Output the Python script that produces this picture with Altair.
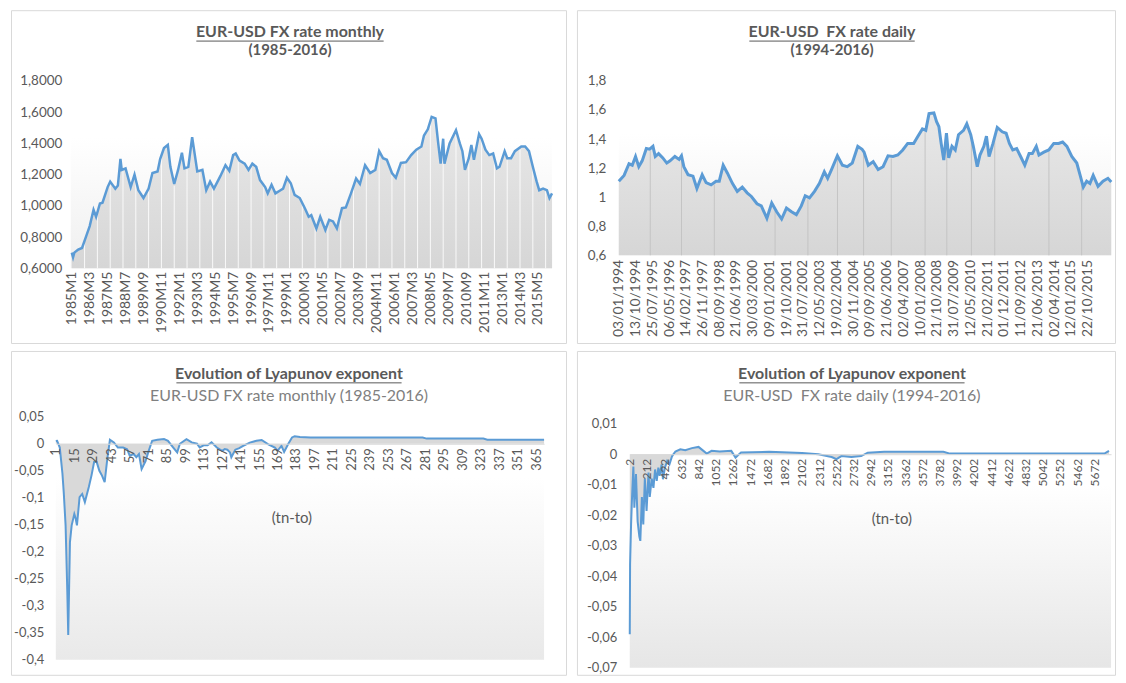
import json
import numpy as np
import pandas as pd
import altair as alt

FONT = "Lato"
TXT = "#595959"
SUB = "#808080"
BLUE = "#5b9bd5"
BORDER = "#d9d9d9"

# ---------------- data ----------------
month_idx = [0, 1, 2, 5, 8, 11, 14, 17, 19, 22, 24, 28, 30, 34, 36, 38, 39, 42, 46, 49,
             52, 56, 60, 63, 67, 69, 72, 75, 77, 80, 83, 86, 88, 91, 94, 98, 102, 105, 108, 111,
             116, 120, 123, 126, 128, 131, 135, 138, 141, 144, 147, 151, 153, 156, 159, 163, 165, 168, 171, 174,
             178, 182, 185, 187, 191, 194, 198, 201, 204, 207, 211, 214, 218, 222, 225, 229, 233, 237, 240, 243,
             246, 250, 253, 257, 261, 265, 269, 273, 275, 278, 281, 284, 286, 288, 290, 291, 295, 300, 303, 305,
             307, 310, 312, 314, 318, 320, 323, 326, 329, 332, 334, 338, 340, 343, 346, 351, 354, 357, 360, 363,
             365, 368, 371, 373, 375]
fx_monthly = [0.70, 0.67, 0.70, 0.72, 0.73, 0.80, 0.87, 0.975, 0.93, 1.015, 1.02, 1.12, 1.155, 1.11, 1.13, 1.30, 1.23, 1.24, 1.12, 1.20,
              1.10, 1.05, 1.11, 1.21, 1.22, 1.30, 1.37, 1.39, 1.25, 1.14, 1.23, 1.34, 1.24, 1.25, 1.44, 1.22, 1.23, 1.10, 1.155, 1.11,
              1.19, 1.26, 1.225, 1.325, 1.335, 1.29, 1.27, 1.23, 1.27, 1.25, 1.165, 1.12, 1.08, 1.135, 1.08, 1.10, 1.11, 1.18, 1.145, 1.07,
              1.05, 0.985, 0.93, 0.94, 0.855, 0.93, 0.845, 0.91, 0.90, 0.855, 0.985, 0.99, 1.08, 1.175, 1.14, 1.26, 1.21, 1.23, 1.35, 1.305,
              1.295, 1.21, 1.18, 1.275, 1.28, 1.325, 1.36, 1.38, 1.45, 1.49, 1.57, 1.56, 1.41, 1.27, 1.43, 1.27, 1.40, 1.485, 1.40, 1.35,
              1.23, 1.305, 1.39, 1.295, 1.46, 1.43, 1.36, 1.325, 1.335, 1.24, 1.25, 1.35, 1.305, 1.305, 1.35, 1.38, 1.38, 1.35, 1.25, 1.155,
              1.10, 1.11, 1.10, 1.05, 1.08]
monthly_ticks = list(range(0, 365, 14))
monthly_labels = ["1985M1", "1986M3", "1987M5", "1988M7", "1989M9", "1990M11", "1992M1", "1993M3", "1994M5",
                  "1995M7", "1996M9", "1997M11", "1999M1", "2000M3", "2001M5", "2002M7", "2003M9", "2004M11",
                  "2006M1", "2007M3", "2008M5", "2009M7", "2010M9", "2011M11", "2013M1", "2014M3", "2015M5"]
fx_m_yticks = [0.6, 0.8, 1.0, 1.2, 1.4, 1.6, 1.8]
fx_m_ylabels = ["0,6000", "0,8000", "1,0000", "1,2000", "1,4000", "1,6000", "1,8000"]

day_idx = [0, 63, 122, 161, 200, 239, 279, 329, 369, 408, 436, 475, 526, 573, 612, 670, 721, 749, 777, 827,
           886, 933, 996, 1043, 1102, 1161, 1200, 1247, 1298, 1357, 1415, 1475, 1533, 1584, 1651, 1702, 1769, 1827, 1886, 1945,
           2003, 2063, 2121, 2180, 2227, 2278, 2338, 2397, 2455, 2495, 2541, 2611, 2671, 2729, 2789, 2855, 2906, 2930, 2980, 3039,
           3098, 3157, 3216, 3275, 3333, 3392, 3451, 3522, 3568, 3627, 3667, 3706, 3764, 3796, 3824, 3851, 3882, 3914, 3941, 3980,
           4019, 4058, 4118, 4157, 4204, 4235, 4282, 4314, 4361, 4392, 4423, 4470, 4521, 4580, 4627, 4666, 4706, 4753, 4800, 4850,
           4901, 4940, 4987, 5019, 5078, 5137, 5196, 5254, 5302, 5353, 5411, 5471, 5509, 5549, 5589, 5628, 5667, 5725, 5784, 5843,
           5883]
fx_daily = [1.11, 1.15, 1.23, 1.22, 1.28, 1.21, 1.25, 1.335, 1.33, 1.35, 1.28, 1.30, 1.27, 1.235, 1.25, 1.28, 1.26, 1.285, 1.21, 1.155,
            1.145, 1.06, 1.155, 1.10, 1.085, 1.11, 1.11, 1.22, 1.165, 1.095, 1.04, 1.07, 1.03, 1.005, 0.955, 0.94, 0.855, 0.96, 0.90, 0.85,
            0.925, 0.90, 0.88, 0.94, 1.01, 0.995, 1.04, 1.095, 1.175, 1.13, 1.19, 1.285, 1.22, 1.21, 1.235, 1.35, 1.33, 1.31, 1.22, 1.245,
            1.19, 1.21, 1.285, 1.28, 1.29, 1.325, 1.37, 1.37, 1.415, 1.47, 1.46, 1.575, 1.58, 1.52, 1.485, 1.37, 1.255, 1.44, 1.27, 1.35,
            1.325, 1.43, 1.46, 1.505, 1.43, 1.35, 1.21, 1.29, 1.35, 1.42, 1.28, 1.37, 1.48, 1.45, 1.44, 1.37, 1.325, 1.335, 1.28, 1.22,
            1.30, 1.30, 1.35, 1.29, 1.31, 1.325, 1.37, 1.37, 1.38, 1.35, 1.28, 1.235, 1.155, 1.07, 1.11, 1.095, 1.15, 1.075, 1.11, 1.13,
            1.105]
daily_ticks = list(range(0, 5601, 200))
daily_labels = ["03/01/1994", "13/10/1994", "25/07/1995", "06/05/1996", "14/02/1997", "26/11/1997", "08/09/1998",
                "21/06/1999", "30/03/2000", "09/01/2001", "19/10/2001", "31/07/2002", "12/05/2003", "19/02/2004",
                "30/11/2004", "09/09/2005", "21/06/2006", "02/04/2007", "10/01/2008", "21/10/2008", "31/07/2009",
                "12/05/2010", "21/02/2011", "01/12/2011", "11/09/2012", "21/06/2013", "02/04/2014", "12/01/2015",
                "22/10/2015"]
daily_gridlines = [376, 749, 1141, 1867, 2259, 2612, 2924, 3255, 3659, 3918, 4212, 4491, 5138, 5529]
fx_d_yticks = [0.6, 0.8, 1.0, 1.2, 1.4, 1.6, 1.8]
fx_d_ylabels = ["0,6", "0,8", "1", "1,2", "1,4", "1,6", "1,8"]

lyap_m_idx = [1, 2, 4, 6, 7, 8.4, 9.7, 10.4, 11.7, 13, 15, 16, 17, 19, 21, 23, 26, 28, 30, 32,
              34, 36, 38, 40, 42, 45, 48, 52, 55, 57, 60, 62, 64, 66, 69, 71, 74, 78, 83, 86,
              90, 93, 95, 100, 104, 108, 110, 113, 116, 119, 123, 127, 129, 131, 133, 134, 137, 140, 143, 148,
              153, 157, 162, 167, 169, 172, 174, 177, 180, 182, 186, 194, 230, 279, 282, 325, 328, 371]
lyap_m = [0.005, 0.0055, -0.007, -0.055, -0.09, -0.151, -0.274, -0.354, -0.182, -0.151, -0.13, -0.138, -0.151, -0.099, -0.093, -0.108, -0.08, -0.059, -0.034, -0.034,
          -0.05, -0.059, -0.071, -0.028, 0.0074, 0.0025, -0.007, -0.007, -0.01, -0.022, -0.019, -0.025, -0.019, -0.047, -0.032, -0.016, 0.0055, 0.0074, 0.0086, 0.0055,
          -0.007, -0.016, 0.0, 0.0086, 0.0025, 0.0, -0.007, -0.003, -0.003, 0.0025, -0.007, -0.013, -0.01, -0.011, -0.016, -0.025, -0.011, -0.008, -0.004, 0.002,
          0.0055, 0.007, -0.001, -0.007, -0.013, -0.004, -0.015, -0.001, 0.0116, 0.014, 0.0125, 0.0115, 0.0115, 0.0115, 0.0095, 0.0095, 0.0075, 0.0075]
lyap_m_ticks = list(range(1, 366, 14))
lyap_m_labels = [str(t) for t in lyap_m_ticks]
lyap_m_yticks = [0.05, 0, -0.05, -0.1, -0.15, -0.2, -0.25, -0.3, -0.35, -0.4]
lyap_m_ylabels = ["0,05", "0", "-0,05", "-0,1", "-0,15", "-0,2", "-0,25", "-0,3", "-0,35", "-0,4"]

lyap_d_idx = [2, 6, 18, 30, 46, 58, 78, 98, 119, 131, 150, 167, 186, 207, 231, 246, 270, 291, 311, 331,
              351, 367, 391, 407, 431, 459, 487, 519, 559, 619, 679, 760, 841, 901, 941, 1001, 1100, 1241, 1293, 1360,
              1702, 2104, 2304, 2465, 2525, 2585, 2706, 2826, 2906, 3107, 3829, 3909, 5794, 5850]
lyap_d = [-0.059, -0.036, -0.023, -0.014, -0.004, -0.0175, -0.0065, -0.022, -0.027, -0.0284, -0.014, -0.023, -0.008, -0.0186, -0.006, -0.014, -0.008, -0.011, -0.005, -0.0087,
          -0.0044, -0.0071, -0.0033, -0.0082, -0.0044, -0.0022, -0.0033, -0.0006, 0.0009, 0.0016, 0.0013, 0.002, 0.0024, 0.0011, 0.0002, 0.0011, 0.0009, 0.0011, -0.0011, 0.0006,
          0.0008, 0.0004, 0.0, -0.0009, -0.0016, -0.0006, -0.0009, -0.0006, 0.0005, 0.0008, 0.0008, 0.0002, 0.0002, 0.0011]
lyap_d_ticks = list(range(2, 5673, 210))
lyap_d_labels = [str(t) for t in lyap_d_ticks]
lyap_d_yticks = [0.01, 0, -0.01, -0.02, -0.03, -0.04, -0.05, -0.06, -0.07]
lyap_d_ylabels = ["0,01", "0", "-0,01", "-0,02", "-0,03", "-0,04", "-0,05", "-0,06", "-0,07"]


# ---------------- helpers ----------------
def lab_expr(ticks, labels):
    return f"{json.dumps(labels)}[indexof({json.dumps(ticks)}, datum.value)]"


def gradient(stops):
    return alt.Gradient(gradient="linear", x1=0, x2=0, y1=0, y2=1,
                        stops=[alt.GradientStop(offset=o, color=c) for o, c in stops])


ONE = alt.Data(values=[{}])


def bg_rect(x0, x1, y0, y1, stops):
    return alt.Chart(ONE).mark_rect(fill=gradient(stops)).encode(
        x=alt.value(x0), x2=alt.value(x1), y=alt.value(y0), y2=alt.value(y1))


def text(s, x, y, size=16, bold=True, color=TXT):
    return alt.Chart(ONE).mark_text(font=FONT, fontSize=size, fontWeight="bold" if bold else "normal",
                                    color=color, align="center", baseline="middle").encode(
        x=alt.value(x), y=alt.value(y), text=alt.value(s))


def hline(x0, x1, y):
    return alt.Chart(ONE).mark_rule(color=TXT, strokeWidth=1).encode(
        x=alt.value(x0), x2=alt.value(x1), y=alt.value(y))


def xaxis(ticks, labels, offset, pad, size, domain=False):
    return alt.Axis(values=ticks, labelExpr=lab_expr(ticks, labels), labelAngle=-90, labelPadding=pad,
                    labelFontSize=size, labelFont=FONT, labelColor=TXT, ticks=False, tickSize=0,
                    domain=domain, domainColor=BORDER, domainWidth=1, grid=False, title=None,
                    offset=offset, labelOverlap=False, labelFlush=False, zindex=1)


def yaxis(ticks, labels, offset, pad, size=13):
    return alt.Axis(values=ticks, labelExpr=lab_expr(ticks, labels), labelPadding=pad,
                    labelFontSize=size, labelFont=FONT, labelColor=TXT, ticks=False, tickSize=0,
                    domain=False, grid=False, title=None, offset=offset, labelOverlap=False,
                    labelFlush=False, zindex=1)


# ---------------- panel 1: monthly FX ----------------
W1, H1 = 557, 334
px0, px1, py0, py1 = 60, 543, 71, 259
xs = alt.Scale(domain=[0, 375], range=[61, px1], nice=False, zero=False)
ys = alt.Scale(domain=[0.6, 1.8], range=[py1, py0], nice=False, zero=False)
ax1 = xaxis(monthly_ticks, monthly_labels, py1 - H1, 3, 14)
ay1 = yaxis(fx_m_yticks, fx_m_ylabels, -px0, 9, 13.5)
dfm = pd.DataFrame({"m": month_idx, "v": fx_monthly})
wl_pos = list(range(10, 371, 10))
dfw = pd.DataFrame({"m": wl_pos, "v": np.interp(wl_pos, month_idx, fx_monthly) - 0.012})

p1 = alt.layer(
    bg_rect(px0, px1, py0, py1, [(0, "#ffffff"), (0.3, "#ffffff"), (1, "#efefef")]),
    alt.Chart(dfm).mark_area(fill=gradient([(0, "#e8e8e8"), (1, "#d6d6d6")])).encode(
        x=alt.X("m:Q", scale=xs, axis=ax1), y=alt.Y("v:Q", scale=ys, axis=ay1), y2=alt.datum(0.6)),
    alt.Chart(dfw).mark_rule(color="white", strokeWidth=1, opacity=0.85).encode(
        x=alt.X("m:Q", scale=xs, axis=ax1), y=alt.Y("v:Q", scale=ys, axis=ay1), y2=alt.datum(0.6)),
    alt.Chart(dfm).mark_line(color=BLUE, strokeWidth=2.5).encode(
        x=alt.X("m:Q", scale=xs, axis=ax1), y=alt.Y("v:Q", scale=ys, axis=ay1)),
    text("EUR-USD FX rate monthly", 280, 22),
    hline(186, 374, 31),
    text("(1985-2016)", 280, 40, size=15),
).properties(width=W1, height=H1)

# ---------------- panel 2: daily FX ----------------
W2, H2 = 540, 334
qx0, qx1, qy0, qy1 = 42, 536, 71, 246
xs2 = alt.Scale(domain=[0, 5880], range=[qx0, qx1], nice=False, zero=False)
ys2 = alt.Scale(domain=[0.6, 1.8], range=[qy1, qy0], nice=False, zero=False)
ax2 = xaxis(daily_ticks, daily_labels, qy1 - H2, 4, 14)
ay2 = yaxis(fx_d_yticks, fx_d_ylabels, -qx0, 13, 13.5)
dfd = pd.DataFrame({"d": day_idx, "v": fx_daily})
dfg = pd.DataFrame({"d": daily_gridlines, "v": np.interp(daily_gridlines, day_idx, fx_daily) - 0.015})

p2 = alt.layer(
    bg_rect(qx0, qx1, qy0, qy1, [(0, "#ffffff"), (0.3, "#ffffff"), (1, "#efefef")]),
    alt.Chart(dfd).mark_area(fill=gradient([(0, "#e8e8e8"), (1, "#d6d6d6")])).encode(
        x=alt.X("d:Q", scale=xs2, axis=ax2), y=alt.Y("v:Q", scale=ys2, axis=ay2), y2=alt.datum(0.6)),
    alt.Chart(dfg).mark_rule(color="#c4c4c4", strokeWidth=1).encode(
        x=alt.X("d:Q", scale=xs2, axis=ax2), y=alt.Y("v:Q", scale=ys2, axis=ay2), y2=alt.datum(0.6)),
    alt.Chart(dfd).mark_line(color=BLUE, strokeWidth=3).encode(
        x=alt.X("d:Q", scale=xs2, axis=ax2), y=alt.Y("v:Q", scale=ys2, axis=ay2)),
    text("EUR-USD\u00a0 FX rate daily", 256, 22),
    hline(173, 339, 31),
    text("(1994-2016)", 256, 40, size=15),
).properties(width=W2, height=H2)

# ---------------- panel 3: Lyapunov monthly ----------------
W3, H3 = 557, 325
rx0, rx1, ry0, ry1 = 45, 535, 66, 310
xs3 = alt.Scale(domain=[1, 371], range=[rx0, rx1], nice=False, zero=False)
ys3 = alt.Scale(domain=[-0.4, 0.05], range=[ry1, ry0], nice=False, zero=False)
zero3 = ry1 - (0.4 / 0.45) * (ry1 - ry0)
ax3 = xaxis(lyap_m_ticks, lyap_m_labels, zero3 - H3, 4, 13, True)
ay3 = yaxis(lyap_m_yticks, lyap_m_ylabels, -rx0, 12, 13)
dfl = pd.DataFrame({"i": lyap_m_idx, "v": lyap_m})

p3 = alt.layer(
    bg_rect(rx0, rx1, ry0, ry1, [(0, "#ffffff"), (0.25, "#ffffff"), (1, "#e9e9e9")]),
    alt.Chart(dfl).mark_area(fill="#d9d9d9").encode(
        x=alt.X("i:Q", scale=xs3, axis=ax3), y=alt.Y("v:Q", scale=ys3, axis=ay3), y2=alt.datum(0)),
    alt.Chart(dfl).mark_line(color=BLUE, strokeWidth=2).encode(
        x=alt.X("i:Q", scale=xs3, axis=ax3), y=alt.Y("v:Q", scale=ys3, axis=ay3)),
    text("Evolution of Lyapunov exponent", 279, 23),
    hline(166, 392, 32),
    text("EUR-USD FX rate monthly (1985-2016)", 279, 45, size=16, bold=False, color=SUB),
    text("(tn-to)", 282, 168, size=15, bold=False),
).properties(width=W3, height=H3)

# ---------------- panel 4: Lyapunov daily ----------------
W4, H4 = 540, 325
sx0, sx1, sy0, sy1 = 53, 536, 73, 318
xs4 = alt.Scale(domain=[2, 5875], range=[sx0, sx1], nice=False, zero=False)
ys4 = alt.Scale(domain=[-0.07, 0.01], range=[sy1, sy0], nice=False, zero=False)
zero4 = sy1 - (0.07 / 0.08) * (sy1 - sy0)
ax4 = xaxis(lyap_d_ticks, lyap_d_labels, zero4 - H4, 4, 12, True)
ay4 = yaxis(lyap_d_yticks, lyap_d_ylabels, -sx0, 13, 13)
dfl2 = pd.DataFrame({"i": lyap_d_idx, "v": lyap_d})

p4 = alt.layer(
    bg_rect(sx0, sx1, sy0, sy1, [(0, "#ffffff"), (0.25, "#ffffff"), (1, "#e6e6e6")]),
    alt.Chart(dfl2).mark_area(fill="#d9d9d9").encode(
        x=alt.X("i:Q", scale=xs4, axis=ax4), y=alt.Y("v:Q", scale=ys4, axis=ay4), y2=alt.datum(0)),
    alt.Chart(dfl2).mark_line(color=BLUE, strokeWidth=2).encode(
        x=alt.X("i:Q", scale=xs4, axis=ax4), y=alt.Y("v:Q", scale=ys4, axis=ay4)),
    text("Evolution of Lyapunov exponent", 276, 23),
    hline(163, 389, 32),
    text("EUR-USD\u00a0 FX rate daily (1994-2016)", 276, 45, size=16, bold=False, color=SUB),
    text("(tn-to)", 316, 169, size=15, bold=False),
).properties(width=W4, height=H4)

chart = alt.concat(
    p1, p2, p3, p4, columns=2, spacing={"row": 8, "column": 11}, bounds="flush",
).properties(
    padding={"left": 2, "top": 0, "right": 0, "bottom": 0},
    background="white",
).configure_view(stroke=BORDER, strokeWidth=1)

chart.save("out.html", embed_options={"renderer": "svg", "actions": False})
